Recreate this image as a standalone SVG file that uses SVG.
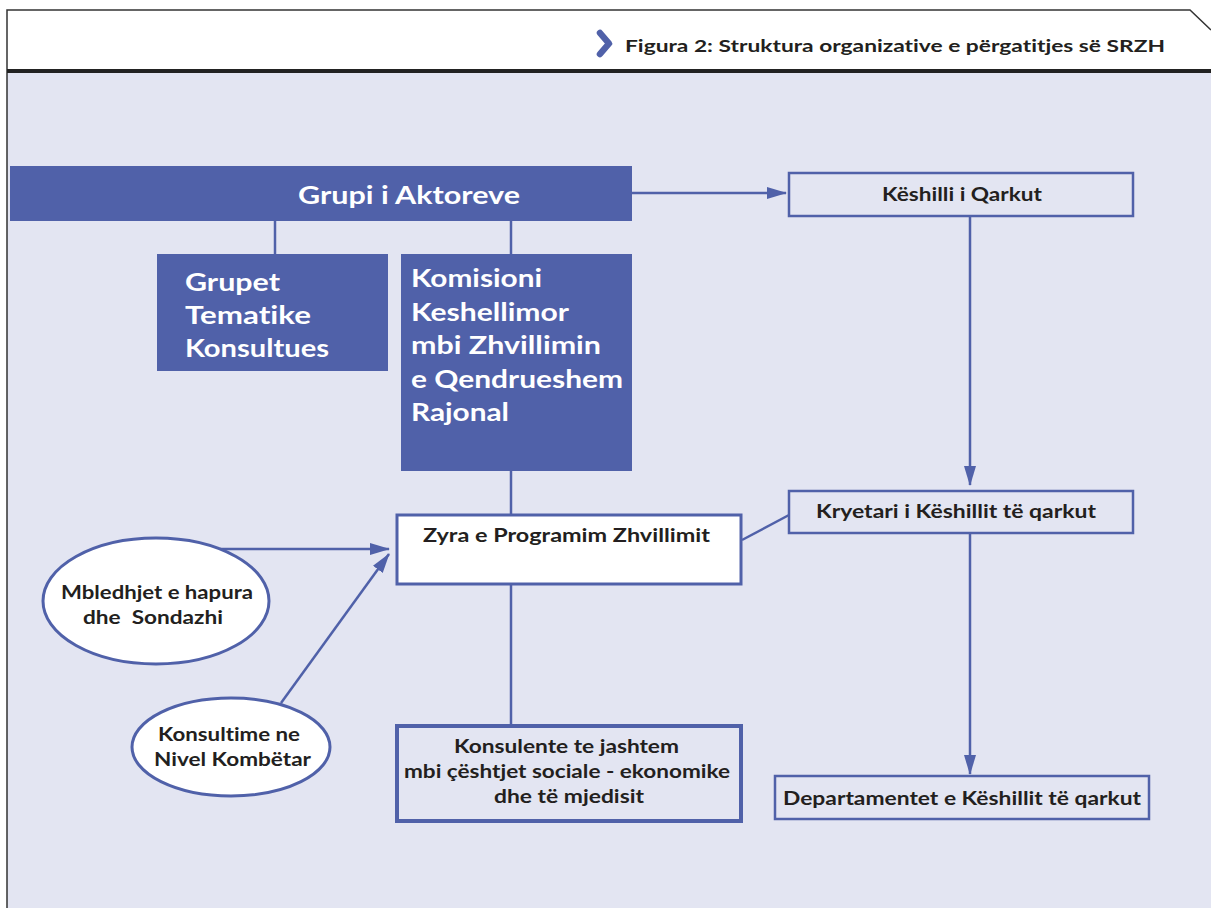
<svg xmlns="http://www.w3.org/2000/svg" width="1211" height="908" viewBox="0 0 1211 908">
<defs>
<style>
.bg{fill:#e3e5f2}
.solid{fill:#5061a9}
.box{fill:#e3e5f2;stroke:#5061a9;stroke-width:2.5}
.thick{stroke-width:4}
.wbox{fill:#ffffff;stroke:#5061a9;stroke-width:3}
.ell{fill:#ffffff;stroke:#5061a9;stroke-width:3}
.conn{stroke:#5061a9;stroke-width:2.5;fill:none}
text{font-variant-ligatures:none}
.wt{font-family:Lato,"Open Sans","Liberation Sans",sans-serif;font-weight:bold;fill:#ffffff}
.dt{font-family:Lato,"Open Sans","Liberation Sans",sans-serif;font-weight:bold;fill:#231f20}
</style>
<marker id="ah" viewBox="0 0 20 12" refX="19" refY="6" markerWidth="20" markerHeight="12" markerUnits="userSpaceOnUse" orient="auto">
<path d="M0,0 L20,6 L0,12 Z" fill="#5061a9"/>
</marker>
</defs>

<g id="frame">
<rect x="0" y="0" width="1211" height="908" fill="#ffffff"/>
<rect class="bg" x="7" y="72" width="1204" height="836"/>
<path d="M7,908 L7,10 L1190,10 L1211,30" fill="none" stroke="#333" stroke-width="1.5"/>
<rect x="7" y="69" width="1204" height="4" fill="#222"/>
<path d="M600,33 L609,43.5 L600,54" fill="none" stroke="#5061a9" stroke-width="6.5" stroke-linecap="round" stroke-linejoin="round"/>
<text class="dt" x="625" y="52" font-size="17" textLength="540" lengthAdjust="spacingAndGlyphs">Figura 2: Struktura organizative e përgatitjes së SRZH</text>
</g>

<g id="connectors">
<line class="conn" x1="275" y1="221" x2="275" y2="254"/>
<line class="conn" x1="511" y1="221" x2="511" y2="254"/>
<line class="conn" x1="511" y1="471" x2="511" y2="515"/>
<line class="conn" x1="511" y1="584" x2="511" y2="725"/>
<line class="conn" x1="632" y1="193" x2="786" y2="193" marker-end="url(#ah)"/>
<line class="conn" x1="970" y1="217" x2="970" y2="485" marker-end="url(#ah)"/>
<line class="conn" x1="970" y1="533" x2="970" y2="774" marker-end="url(#ah)"/>
<line class="conn" x1="742" y1="540" x2="789" y2="515"/>
<line class="conn" x1="220" y1="549" x2="389" y2="549" marker-end="url(#ah)"/>
<line class="conn" x1="281" y1="703" x2="389" y2="554" marker-end="url(#ah)"/>
</g>

<g id="grupi">
<rect class="solid" x="10" y="166" width="622" height="55"/>
<text class="wt" x="298" y="204" font-size="24" textLength="222" lengthAdjust="spacingAndGlyphs">Grupi i Aktoreve</text>
</g>

<g id="grupet">
<rect class="solid" x="157" y="254" width="231" height="117"/>
<text class="wt" x="185" y="291" font-size="24" textLength="95" lengthAdjust="spacingAndGlyphs">Grupet</text>
<text class="wt" x="185" y="324" font-size="24" textLength="126" lengthAdjust="spacingAndGlyphs">Tematike</text>
<text class="wt" x="185" y="357" font-size="24" textLength="144" lengthAdjust="spacingAndGlyphs">Konsultues</text>
</g>

<g id="komisioni">
<rect class="solid" x="401" y="254" width="231" height="217"/>
<text class="wt" x="411" y="287" font-size="25" textLength="131" lengthAdjust="spacingAndGlyphs">Komisioni</text>
<text class="wt" x="411" y="321" font-size="25" textLength="158" lengthAdjust="spacingAndGlyphs">Keshellimor</text>
<text class="wt" x="411" y="354" font-size="25" textLength="190" lengthAdjust="spacingAndGlyphs">mbi Zhvillimin</text>
<text class="wt" x="411" y="388" font-size="25" textLength="212" lengthAdjust="spacingAndGlyphs">e Qendrueshem</text>
<text class="wt" x="411" y="421" font-size="25" textLength="98" lengthAdjust="spacingAndGlyphs">Rajonal</text>
</g>

<g id="keshilli">
<rect class="box" x="789" y="173" width="344" height="43"/>
<text class="dt" x="882" y="201" font-size="18" textLength="160" lengthAdjust="spacingAndGlyphs">Këshilli i Qarkut</text>
</g>

<g id="kryetari">
<rect class="box" x="789" y="491" width="344" height="42"/>
<text class="dt" x="816" y="518" font-size="18" textLength="280" lengthAdjust="spacingAndGlyphs">Kryetari i Këshillit të qarkut</text>
</g>

<g id="departamentet">
<rect class="box" x="775" y="776" width="374" height="43"/>
<text class="dt" x="783" y="805" font-size="18" textLength="358" lengthAdjust="spacingAndGlyphs">Departamentet e Këshillit të qarkut</text>
</g>

<g id="zyra">
<rect class="wbox" x="397" y="515" width="344" height="69"/>
<text class="dt" x="423" y="542" font-size="18" textLength="287" lengthAdjust="spacingAndGlyphs">Zyra e Programim Zhvillimit</text>
</g>

<g id="konsulente">
<rect class="box thick" x="397" y="726" width="344" height="95"/>
<text class="dt" x="454" y="753" font-size="18" textLength="225" lengthAdjust="spacingAndGlyphs">Konsulente te jashtem</text>
<text class="dt" x="404" y="778" font-size="18" textLength="326" lengthAdjust="spacingAndGlyphs">mbi çështjet sociale - ekonomike</text>
<text class="dt" x="494" y="803" font-size="18" textLength="150" lengthAdjust="spacingAndGlyphs">dhe të mjedisit</text>
</g>

<g id="mbledhjet">
<ellipse class="ell" cx="156" cy="601" rx="113" ry="63"/>
<text class="dt" x="61" y="599" font-size="18" textLength="192" lengthAdjust="spacingAndGlyphs">Mbledhjet e hapura</text>
<text class="dt" x="83" y="624" font-size="18" textLength="140" lengthAdjust="spacingAndGlyphs" xml:space="preserve">dhe  Sondazhi</text>
</g>

<g id="konsultime">
<ellipse class="ell" cx="231" cy="747" rx="99" ry="49"/>
<text class="dt" x="158" y="741" font-size="18" textLength="142" lengthAdjust="spacingAndGlyphs">Konsultime ne</text>
<text class="dt" x="154" y="766" font-size="18" textLength="157" lengthAdjust="spacingAndGlyphs">Nivel Kombëtar</text>
</g>
</svg>
